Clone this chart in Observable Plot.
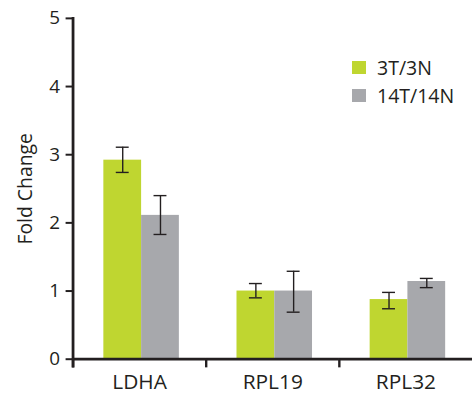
<!DOCTYPE html>
<html>
<head>
<meta charset="utf-8">
<script src="https://cdn.jsdelivr.net/npm/d3@7"></script>
<script src="https://cdn.jsdelivr.net/npm/@observablehq/plot@0.6"></script>
<style>
  html, body { margin: 0; padding: 0; background: #fff; overflow: hidden; }
  #wrap { position: relative; width: 472px; height: 399px; overflow: hidden; }
  #legend { position: absolute; left: 352px; top: 53px; font-family: "Open Sans", sans-serif; font-size: 19.5px; color: #231f20; }
  .item { display: flex; align-items: center; height: 28px; }
  .sw { width: 14px; height: 13px; margin-right: 11px; }
</style>
</head>
<body>
<div id="wrap"><div id="legend"></div></div>
<script>
const genes = ["LDHA", "RPL19", "RPL32"];
const series = ["3T/3N", "14T/14N"];
const colors = ["#bfd630", "#a7a8ac"];
const value3T = [2.92, 1.00, 0.875];
const lo3T = [2.74, 0.90, 0.74];
const hi3T = [3.11, 1.11, 0.98];
const value14T = [2.11, 1.00, 1.14];
const lo14T = [1.83, 0.69, 1.05];
const hi14T = [2.40, 1.29, 1.185];
const yTicks = [0, 1, 2, 3, 4, 5];
const yLabel = "Fold Change";

const rows = [];
genes.forEach((g, i) => {
  rows.push({gene: g, series: series[0], value: value3T[i], lo: lo3T[i], hi: hi3T[i]});
  rows.push({gene: g, series: series[1], value: value14T[i], lo: lo14T[i], hi: hi14T[i]});
});

const dark = "#231f20";
const W = 475, H = 399, mL = 73, mR = 0, mT = 18, mB = 38;
const innerH = H - mT - mB;

const chart = Plot.plot({
  width: W, height: H,
  marginLeft: mL, marginRight: mR, marginTop: mT, marginBottom: mB,
  style: {fontFamily: "'Open Sans', sans-serif", fontSize: "18px", color: dark, background: "white", overflow: "visible"},
  fx: {domain: genes, padding: 0, label: null},
  x: {domain: series, paddingInner: 0, paddingOuter: 0.718, align: 0.536, axis: null},
  y: {domain: [0, 5], label: null},
  color: {domain: series, range: colors},
  marks: [
    Plot.barY(rows, {fx: "gene", x: "series", y: "value", fill: "series"}),
    Plot.ruleX(rows, {fx: "gene", x: "series", y1: "lo", y2: "hi", stroke: dark, strokeWidth: 1.4}),
    Plot.tickY(rows, {fx: "gene", x: "series", y: "lo", stroke: dark, strokeWidth: 1.4, insetLeft: 12.5, insetRight: 12.5}),
    Plot.tickY(rows, {fx: "gene", x: "series", y: "hi", stroke: dark, strokeWidth: 1.4, insetLeft: 12.5, insetRight: 12.5}),
    Plot.ruleY([0], {stroke: dark, strokeWidth: 2.8}),
    Plot.frame({anchor: "left", facetAnchor: "left", stroke: dark, strokeWidth: 2.8, insetBottom: -7}),
    Plot.frame({anchor: "left", stroke: dark, strokeWidth: 2.4, insetTop: innerH, insetBottom: -7}),
    Plot.axisY({ticks: yTicks, tickFormat: "d", tickSize: 7, tickPadding: 6, strokeWidth: 2, fontSize: 19, label: null}),
    Plot.text([yLabel], {frameAnchor: "left", facetAnchor: "left", rotate: -90, textAnchor: "middle", dx: -41.5, lineAnchor: "bottom", fontSize: 19.5, fill: dark}),
    Plot.axisFx({anchor: "bottom", tickSize: 0, tickPadding: 15, fontSize: 21, label: null})
  ]
});
const wrap = document.getElementById("wrap");
wrap.insertBefore(chart, wrap.firstChild);

const legend = document.getElementById("legend");
series.forEach((s, i) => {
  const item = document.createElement("div");
  item.className = "item";
  const sw = document.createElement("span");
  sw.className = "sw";
  sw.style.background = colors[i];
  const t = document.createElement("span");
  t.textContent = s;
  item.appendChild(sw);
  item.appendChild(t);
  legend.appendChild(item);
});
</script>
</body>
</html>
